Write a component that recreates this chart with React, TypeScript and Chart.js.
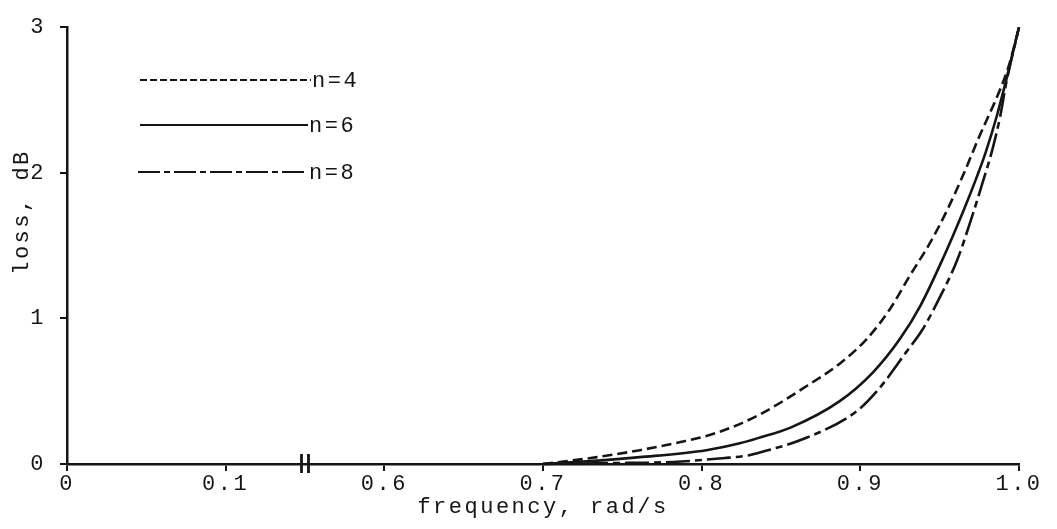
import { useEffect, useRef } from 'react';
import { Chart, registerables } from 'chart.js';

Chart.register(...registerables);

// ---- data (frequency in rad/s, loss in dB) ----
const FREQ_N4 = [0.70, 0.734, 0.761, 0.786, 0.810, 0.835, 0.866, 0.887, 0.904, 0.919, 0.931, 0.944, 0.955, 0.965, 0.975, 0.988, 0.994, 1.0];
const LOSS_N4 = [0.0, 0.047, 0.095, 0.149, 0.216, 0.331, 0.534, 0.689, 0.858, 1.07, 1.29, 1.52, 1.75, 1.99, 2.25, 2.57, 2.75, 3.0];

const FREQ_N6 = [0.70, 0.73, 0.761, 0.803, 0.824, 0.835, 0.856, 0.887, 0.908, 0.925, 0.938, 0.952, 0.965, 0.973, 0.979, 0.986, 0.992, 1.0];
const LOSS_N6 = [0.0, 0.02, 0.047, 0.095, 0.142, 0.176, 0.25, 0.432, 0.63, 0.86, 1.09, 1.41, 1.74, 1.96, 2.14, 2.39, 2.64, 3.0];

const FREQ_N8 = [0.70, 0.74, 0.782, 0.813, 0.830, 0.835, 0.866, 0.898, 0.912, 0.929, 0.939, 0.948, 0.961, 0.971, 0.977, 0.983, 0.988, 0.992, 1.0];
const LOSS_N8 = [0.0, 0.006, 0.014, 0.04, 0.06, 0.074, 0.18, 0.365, 0.52, 0.77, 0.92, 1.1, 1.40, 1.72, 1.93, 2.15, 2.38, 2.62, 3.0];

const SERIES_LABELS = ['n=4', 'n=6', 'n=8'];
const X_TICK_LABELS = ['0', '0.1', '0.6', '0.7', '0.8', '0.9', '1.0'];
const Y_TICKS = [0, 1, 2, 3];
const X_TITLE = 'frequency, rad/s';
const Y_TITLE = 'loss, dB';

// broken axis: 0..0.1 then 0.6..1.0, each 0.1 step = one axis unit
const toAxis = (f: number) => (f <= 0.1 ? f * 10 : 2 + (f - 0.6) * 10);
const BREAK_AT = 1.5;

const FONT = '"Liberation Mono", "DejaVu Sans Mono", monospace';
const INK = '#151515';
const FS = 22;
const SPACING = '2.5px';

const DASH_N4 = [10, 5];
const DASH_N6: number[] = [];
const DASH_N8 = [24, 5, 7, 5];
const LEGEND_DASH = [[7, 3], [], [22, 4, 6, 4]];

const mk = (xs: number[], ys: number[]) => xs.map((f, i) => ({ x: toAxis(f), y: ys[i] }));

export default function App() {
  const ref = useRef<HTMLCanvasElement | null>(null);

  useEffect(() => {
    if (!ref.current) return;

    const spacing = {
      id: 'spacing',
      beforeUpdate(chart: any) { chart.ctx.letterSpacing = SPACING; },
      beforeDraw(chart: any) { chart.ctx.letterSpacing = SPACING; },
    };

    const overlay = {
      id: 'overlay',
      afterDraw(chart: any) {
        const ctx = chart.ctx;
        const xs = chart.scales.x;
        const ys = chart.scales.y;
        ctx.save();
        // axis break marks
        const bx = xs.getPixelForValue(BREAK_AT);
        const ay = ys.getPixelForValue(0);
        ctx.strokeStyle = INK;
        ctx.lineWidth = 2.8;
        ctx.setLineDash([]);
        [-3.5, 3.5].forEach((d) => {
          ctx.beginPath();
          ctx.moveTo(bx + d, ay - 10);
          ctx.lineTo(bx + d, ay + 9);
          ctx.stroke();
        });
        // legend
        const rows = [80, 125, 172];
        const starts = [140, 140, 138];
        const ends = [311, 308, 308];
        chart.data.datasets.forEach((ds: any, i: number) => {
          ctx.beginPath();
          ctx.lineWidth = 2.2;
          ctx.setLineDash(LEGEND_DASH[i]);
          ctx.moveTo(starts[i], rows[i]);
          ctx.lineTo(ends[i], rows[i]);
          ctx.stroke();
          ctx.setLineDash([]);
          ctx.fillStyle = INK;
          ctx.font = `${FS}px ${FONT}`;
          ctx.textAlign = 'left';
          ctx.textBaseline = 'middle';
          ctx.fillText(ds.label, ends[i] + 1, rows[i] + 1);
        });
        // y title
        ctx.translate(22, 212);
        ctx.rotate(-Math.PI / 2);
        ctx.textAlign = 'center';
        ctx.textBaseline = 'middle';
        ctx.font = `${FS}px ${FONT}`;
        ctx.fillStyle = INK;
        ctx.fillText(Y_TITLE, 0, 0);
        ctx.restore();
      },
    };

    const chart = new Chart(ref.current, {
      type: 'line',
      data: {
        datasets: [
          { label: SERIES_LABELS[0], data: mk(FREQ_N4, LOSS_N4), borderDash: DASH_N4 },
          { label: SERIES_LABELS[1], data: mk(FREQ_N6, LOSS_N6), borderDash: DASH_N6 },
          { label: SERIES_LABELS[2], data: mk(FREQ_N8, LOSS_N8), borderDash: DASH_N8 },
        ].map((d) => ({
          ...d,
          borderColor: INK,
          backgroundColor: INK,
          borderWidth: 2.6,
          pointRadius: 0,
          fill: false,
          cubicInterpolationMode: 'monotone' as const,
          clip: false as any,
        })),
      },
      options: {
        responsive: false,
        animation: false,
        layout: { padding: { left: 0, top: 20, right: 38, bottom: 0 } },
        plugins: { legend: { display: false }, tooltip: { enabled: false } },
        scales: {
          x: {
            type: 'linear',
            min: 0,
            max: 6,
            afterFit: (s: any) => { s.height = 65; },
            afterBuildTicks: (s: any) => { s.ticks = X_TICK_LABELS.map((_, i) => ({ value: i })); },
            border: { display: true, color: INK, width: 2.5 },
            grid: { display: true, drawOnChartArea: false, drawTicks: true, tickLength: 7, color: INK, lineWidth: 2 },
            ticks: {
              color: INK,
              font: { family: FONT, size: FS },
              padding: 0,
              maxRotation: 0,
              autoSkip: false,
              callback: (v: any) => X_TICK_LABELS[Math.round(Number(v))] ?? '',
            },
            title: { display: true, text: X_TITLE, color: INK, font: { family: FONT, size: FS }, padding: { top: 0, bottom: 9 } },
          },
          y: {
            type: 'linear',
            min: 0,
            max: 3,
            afterFit: (s: any) => { s.width = 67; },
            afterBuildTicks: (s: any) => { s.ticks = Y_TICKS.map((v) => ({ value: v })); },
            border: { display: true, color: INK, width: 2.5 },
            grid: { display: true, drawOnChartArea: false, drawTicks: true, tickLength: 7, color: INK, lineWidth: 2 },
            ticks: {
              color: INK,
              font: { family: FONT, size: FS },
              padding: 14,
              callback: (v: any) => String(v),
            },
          },
        },
      },
      plugins: [spacing, overlay],
    } as any);

    return () => chart.destroy();
  }, []);

  return (
    <div style={{ position: 'absolute', left: 0, top: 0, width: 1057, height: 529, background: '#fff' }}>
      <canvas ref={ref} width={1057} height={529} />
    </div>
  );
}
